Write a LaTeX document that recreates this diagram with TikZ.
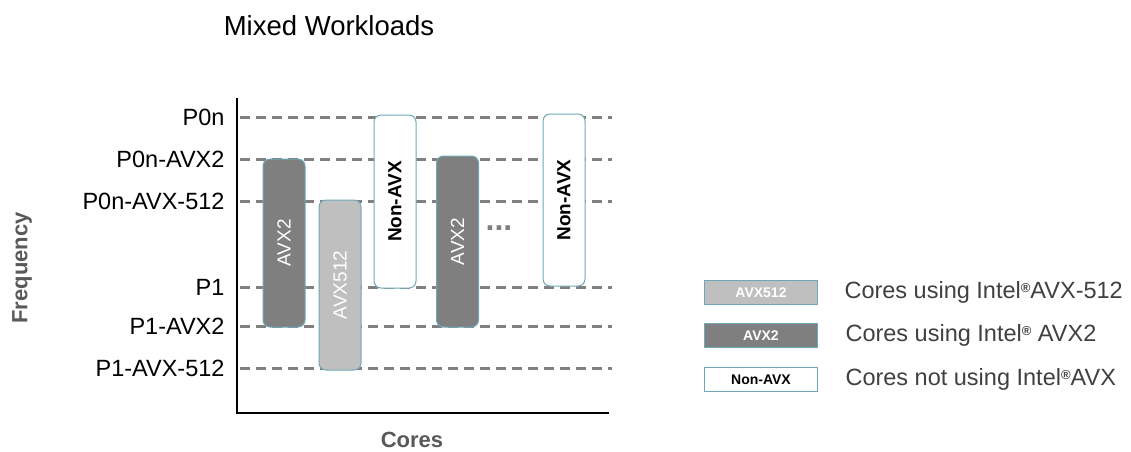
\documentclass[tikz,border=0pt]{standalone}
\usepackage{fontspec}
\setmainfont{Liberation Sans}
\usetikzlibrary{positioning}
\definecolor{bardark}{HTML}{7F7F7F}
\definecolor{barlight}{HTML}{BFBFBF}
\definecolor{baredge}{HTML}{6FA9B9}
\definecolor{gridgray}{HTML}{808080}
\definecolor{axistext}{HTML}{595959}
\definecolor{legendtext}{HTML}{404040}
\newcommand{\regmark}{\raisebox{0.5ex}{\fontsize{13}{13}\selectfont\bfseries ®}}
\tikzset{
	corebar/.style={draw=baredge,line width=1pt,rounded corners=7pt,rotate=90,minimum height=42pt,inner sep=0pt,font=\fontsize{19}{19}\selectfont},
	avxtwo/.style={corebar,fill=bardark,text=white},
	avxfive/.style={corebar,fill=barlight,text=white},
	nonavx/.style={corebar,fill=white,font=\fontsize{19}{19}\selectfont\bfseries},
	levellabel/.style={anchor=east,font=\fontsize{23.5}{23.5}\selectfont},
	gridline/.style={draw=gridgray,line width=3pt,dash pattern=on 10pt off 6pt},
	axisline/.style={draw=black,line width=1.5pt},
	legendbox/.style={draw=baredge,line width=1pt,minimum width=113pt,minimum height=24pt,inner sep=0pt,font=\fontsize{14}{14}\selectfont\bfseries},
	legendtext/.style={anchor=west,text=legendtext,font=\fontsize{23.5}{23.5}\selectfont},
	axistitle/.style={text=axistext,font=\fontsize{22}{22}\selectfont\bfseries}
}

\begin{document}
\begin{tikzpicture}[x=1pt,y=-1pt]
	\useasboundingbox (0,0) rectangle (1131,451);
	\node [font=\fontsize{27.5}{27.5}\selectfont] (title) at (329,26) {Mixed Workloads};

	\node [levellabel] (p0n) at (228,117) {P0n};
	\node [levellabel] (p0navxtwo) at (228,159) {P0n-AVX2};
	\node [levellabel] (p0navxfive) at (228,201) {P0n-AVX-512};
	\node [levellabel] (p1) at (228,287) {P1};
	\node [levellabel] (p1avxtwo) at (228,326) {P1-AVX2};
	\node [levellabel] (p1avxfive) at (228,368) {P1-AVX-512};
	\draw [gridline] ([xshift=12pt]p0n.east) to ([xshift=384pt]p0n.east);
	\draw [gridline] ([xshift=12pt]p0navxtwo.east) to ([xshift=384pt]p0navxtwo.east);
	\draw [gridline] ([xshift=12pt]p0navxfive.east) to ([xshift=384pt]p0navxfive.east);
	\draw [gridline] ([xshift=12pt]p1.east) to ([xshift=384pt]p1.east);
	\draw [gridline] ([xshift=12pt]p1avxtwo.east) to ([xshift=384pt]p1avxtwo.east);
	\draw [gridline] ([xshift=12pt]p1avxfive.east) to ([xshift=384pt]p1avxfive.east);

	\coordinate (ytop) at (237,98);
	\coordinate (origin) at (237,413);
	\coordinate (xend) at (609,413);
	\draw [axisline] (ytop) -- (origin) -- (xend);

	\node [avxtwo,minimum width=168pt] (coreone) at (284,243) {AVX2};
	\node [avxfive,minimum width=170pt] (coretwo) at (340,285) {AVX512};
	\node [nonavx,minimum width=173pt] (corethree) at (395,201.5) {Non-AVX};
	\node [avxtwo,minimum width=171pt] (corefour) at (457.5,241.5) {AVX2};
	\node [text=bardark,font=\fontsize{32}{32}\selectfont\bfseries,anchor=base] (dots) at (499,230) {...};
	\node [nonavx,minimum width=172pt] (corelast) at (564,200) {Non-AVX};

	\node [axistitle,rotate=90] (freq) at (22,268) {Frequency};
	\node [axistitle] (cores) at (412,440) {Cores};

	\node [legendbox,fill=barlight,text=white] (keyfive) at (761,292.5) {AVX512};
	\node [legendbox,fill=bardark,text=white] (keytwo) at (761,335.5) {AVX2};
	\node [legendbox,fill=white] (keynon) at (761,379.5) {Non-AVX};
	\node [legendtext] (keyfivetext) at ([xshift=23pt]keyfive.east) {Cores using Intel\regmark AVX-512};
	\node [legendtext] (keytwotext) at ([xshift=24pt]keytwo.east) {Cores using Intel\regmark\ AVX2};
	\node [legendtext] (keynontext) at ([xshift=24pt]keynon.east) {Cores not using Intel\regmark AVX};
\end{tikzpicture}
\end{document}
